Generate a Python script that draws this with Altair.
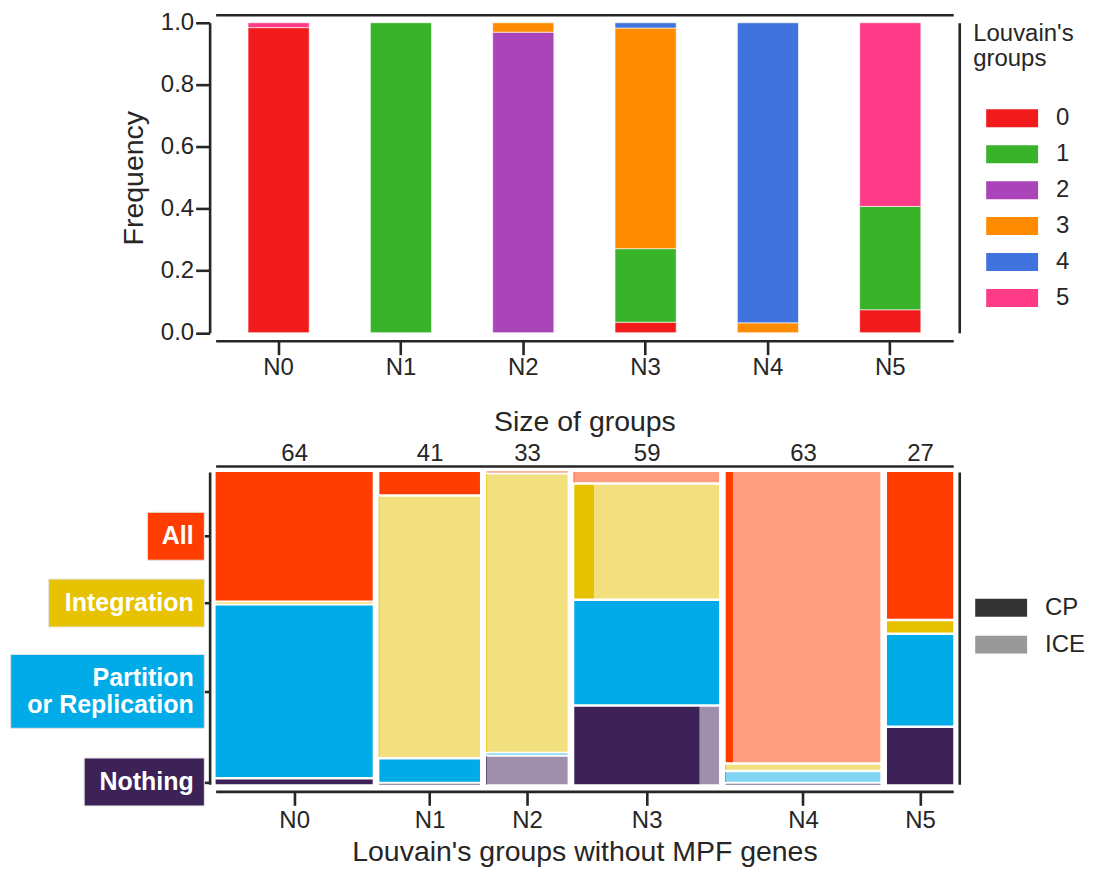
import altair as alt
import pandas as pd

# ---------------- data ----------------
groups = ["N0", "N1", "N2", "N3", "N4", "N5"]
louvain_groups = ["0", "1", "2", "3", "4", "5"]
louvain_colors = ["#F21B1B", "#38B32A", "#AA45B9", "#FF8C00", "#4073DE", "#FF3B87"]
# members of each Louvain group found in each group (rows: N0..N5, cols: 0..5)
louvain_counts = [
    [63, 0, 0, 0, 0, 1],
    [0, 41, 0, 0, 0, 0],
    [0, 0, 32, 1, 0, 0],
    [2, 14, 0, 42, 1, 0],
    [0, 0, 0, 2, 61, 0],
    [2, 9, 0, 0, 0, 16],
]
group_sizes = [64, 41, 33, 59, 63, 27]
functions = ["All", "Integration", "Partition or Replication", "Nothing"]
function_lines = [["All"], ["Integration"], ["Partition", "or Replication"], ["Nothing"]]
types = ["CP", "ICE"]
# counts per group (rows) and function (cols: All, Integration, Partition, Nothing)
cp_counts = [
    [27, 0, 36, 1],
    [3, 0, 3, 0],
    [0, 0, 0, 0],
    [0, 3, 20, 13],
    [3, 0, 0, 0],
    [13, 1, 8, 5],
]
ice_counts = [
    [0, 0, 0, 0],
    [0, 35, 0, 0],
    [0, 30, 0, 3],
    [2, 19, 0, 2],
    [57, 1, 2, 0],
    [0, 0, 0, 0],
]
cp_colors = ["#FF3D00", "#E6C200", "#00ABE7", "#3D2258"]
ice_colors = ["#FF9E80", "#F2E07F", "#80D5F3", "#9E90AB"]
type_colors = ["#333333", "#999999"]
legend_title_lines = ["Louvain's", "groups"]

# ---------------- style ----------------
FONT = "Liberation Sans"
INK = "#262626"
W = 739
H1 = 310.5
H2 = 313
GX = 0.009   # spacing between mosaic columns
GY = 0.008   # spacing between mosaic rows
LEG_PATH = "M-0.212,-0.545H2.939V0.545H-0.212Z"
box_left = {"All": -68.3, "Integration": -167.3, "Partition or Replication": -205.3, "Nothing": -131.7}
box_half = {"All": 24, "Integration": 24, "Partition or Replication": 37, "Nothing": 24}
LINE_H = 26.6

# ---------------- top panel ----------------
top_rows = []
for i, g in enumerate(groups):
    for k, lg in enumerate(louvain_groups):
        n = louvain_counts[i][k]
        if n > 0:
            top_rows.append(dict(group=g, louvain=lg, ordr=k, count=n))
top_df = pd.DataFrame(top_rows)

xband = alt.Scale(domain=groups, paddingInner=0.5, paddingOuter=0.265)
ylin = alt.Scale(domain=[0, 1], nice=False)

base_top = alt.Chart(top_df).transform_joinaggregate(
    total="sum(count)", groupby=["group"]
).transform_calculate(freq="datum.count / datum.total")

bars = base_top.mark_bar(stroke="white", strokeWidth=1, strokeOpacity=0.6).encode(
    x=alt.X("group:N", scale=xband,
            axis=alt.Axis(orient="bottom", title=None, offset=8, labelAngle=0,
                          tickSize=14, labelPadding=1)),
    y=alt.Y("freq:Q", stack="zero", scale=ylin,
            axis=alt.Axis(orient="left", title="Frequency", values=[0, 0.2, 0.4, 0.6, 0.8, 1.0],
                          format=".1f", offset=6, tickSize=14, labelPadding=2, titlePadding=12)),
    color=alt.Color("louvain:N", scale=alt.Scale(domain=louvain_groups, range=louvain_colors),
                    legend=alt.Legend(title=None, orient="none", legendX=759, legendY=79.2,
                                      symbolType=LEG_PATH, symbolSize=1089,
                                      symbolStrokeWidth=0, symbolOpacity=1,
                                      labelOffset=50, rowPadding=7)),
    order=alt.Order("ordr:Q", sort="ascending"),
)
frame_top = base_top.mark_bar(opacity=0).encode(
    x=alt.X("group:N", scale=xband,
            axis=alt.Axis(orient="top", title=None, labels=False, ticks=False, tickSize=0, offset=8)),
    y=alt.Y("freq:Q", stack="zero", scale=ylin,
            axis=alt.Axis(orient="right", title=None, labels=False, ticks=False, tickSize=0, offset=6)),
)
top_layers = [bars, frame_top]
for k, line in enumerate(legend_title_lines):
    top_layers.append(
        alt.Chart(pd.DataFrame({"t": [line]})).mark_text(
            align="left", baseline="middle", font=FONT, fontSize=24, color=INK
        ).encode(x=alt.value(759), y=alt.value(11.5 + k * 25), text="t:N")
    )
top = alt.layer(*top_layers).resolve_axis(x="independent", y="independent").properties(
    width=W, height=H1)

# ---------------- bottom panel (mosaic) ----------------
total = sum(group_sizes)
avail_x = 1 - GX * (len(groups) - 1)
avail_y = 1 - GY * (len(functions) - 1)
rows = []
xcenters = []
ycenters0 = {}
x0 = 0.0
for i, g in enumerate(groups):
    w = group_sizes[i] / total * avail_x
    xs, xe = x0, x0 + w
    xcenters.append((xs + xe) / 2)
    y = 0.0
    for j in reversed(range(len(functions))):
        n = cp_counts[i][j] + ice_counts[i][j]
        h = n / group_sizes[i] * avail_y
        ys, ye = y, y + h
        if i == 0:
            ycenters0[functions[j]] = (ys + ye) / 2
        if n == 0:
            rows.append(dict(x0=xs, x1=xe, y0=ys, y1=ye, fill=ice_colors[j], type="ICE", sw=1))
        else:
            xm = xs + cp_counts[i][j] / n * w
            rows.append(dict(x0=xs, x1=xm, y0=ys, y1=ye, fill=cp_colors[j], type="CP",
                             sw=1 if cp_counts[i][j] == 0 else 0))
            if ice_counts[i][j] > 0:
                rows.append(dict(x0=xm, x1=xe, y0=ys, y1=ye, fill=ice_colors[j], type="ICE", sw=0))
        y = ye + GY
    x0 = xe + GX
mos_df = pd.DataFrame(rows)

def label_expr(names):
    parts = []
    for k in range(len(xcenters) - 1):
        mid = (xcenters[k] + xcenters[k + 1]) / 2
        parts.append(f"datum.value < {mid:.5f} ? '{names[k]}' : ")
    return "".join(parts) + f"'{names[-1]}'"

xq = alt.Scale(domain=[0, 1], nice=False, zero=False)
yq = alt.Scale(domain=[0, 1], nice=False, zero=False)
ytick_vals = [ycenters0[f] for f in functions]

mosaic = alt.Chart(mos_df).mark_rect().encode(
    x=alt.X("x0:Q", scale=xq,
            axis=alt.Axis(orient="bottom", values=xcenters, labelExpr=label_expr(groups),
                          title="Louvain's groups without MPF genes", offset=7, tickSize=14,
                          labelPadding=3, titlePadding=5)),
    x2="x1:Q",
    y=alt.Y("y0:Q", scale=yq,
            axis=alt.Axis(orient="left", values=ytick_vals, labels=False, title=None,
                          offset=6, tickSize=14)),
    y2="y1:Q",
    fill=alt.Fill("fill:N", scale=None),
    stroke=alt.Stroke("fill:N", scale=None),
    strokeWidth=alt.StrokeWidth("sw:Q", scale=None),
)
frame_bottom = alt.Chart(mos_df).mark_rect(opacity=0).encode(
    x=alt.X("x0:Q", scale=xq,
            axis=alt.Axis(orient="top", values=xcenters,
                          labelExpr=label_expr([str(s) for s in group_sizes]),
                          title="Size of groups", ticks=False, tickSize=0, offset=6,
                          labelPadding=0, titlePadding=6)),
    x2="x1:Q",
    y=alt.Y("y0:Q", scale=yq,
            axis=alt.Axis(orient="right", labels=False, ticks=False, tickSize=0, title=None, offset=6)),
    y2="y1:Q",
    color=alt.Color("type:N", scale=alt.Scale(domain=types, range=type_colors),
                    legend=alt.Legend(title=None, orient="none", legendX=748, legendY=119.5,
                                      symbolType=LEG_PATH, symbolSize=1089, symbolStrokeWidth=0,
                                      symbolOpacity=1, labelOffset=50, rowPadding=8)),
)

layers = [mosaic, frame_bottom]
for j, f in enumerate(functions):
    one = pd.DataFrame({"yc": [ycenters0[f]]})
    box = alt.Chart(one).mark_rect(
        fill=cp_colors[j], stroke="#e4e4e4", strokeWidth=1,
        yOffset=-box_half[f], y2Offset=box_half[f],
    ).encode(
        x=alt.value(box_left[f]), x2=alt.value(-11.3),
        y=alt.Y("yc:Q", scale=yq, axis=None), y2="yc:Q",
    )
    layers.append(box)
    nl = len(function_lines[j])
    for k, line in enumerate(function_lines[j]):
        dy = (k - (nl - 1) / 2) * LINE_H
        txt = alt.Chart(pd.DataFrame({"yc": [ycenters0[f]], "t": [line]})).mark_text(
            align="right", baseline="middle", font=FONT, fontWeight="bold", fontSize=25,
            color="white", dy=dy,
        ).encode(
            x=alt.value(-22), y=alt.Y("yc:Q", scale=yq, axis=None), text="t:N",
        )
        layers.append(txt)

bottom = alt.layer(*layers).resolve_axis(x="independent", y="independent").properties(
    width=W, height=H2)

chart = alt.vconcat(top, bottom, spacing=139, bounds="flush").resolve_scale(
    color="independent"
).properties(
    padding={"left": 2, "top": 2, "right": 0, "bottom": 0}
).configure_view(stroke=None).configure_axis(
    labelFont=FONT, titleFont=FONT, labelFontSize=24, titleFontSize=28.5,
    labelColor=INK, titleColor=INK, titleFontWeight="normal",
    domainColor=INK, domainWidth=2.6, tickColor=INK, tickWidth=2.6, grid=False,
).configure_legend(
    labelFont=FONT, titleFont=FONT, labelFontSize=24, titleFontSize=24,
    labelColor=INK, titleColor=INK, titleFontWeight="normal",
)

chart.save("out.html", embed_options={"renderer": "svg", "actions": False})
